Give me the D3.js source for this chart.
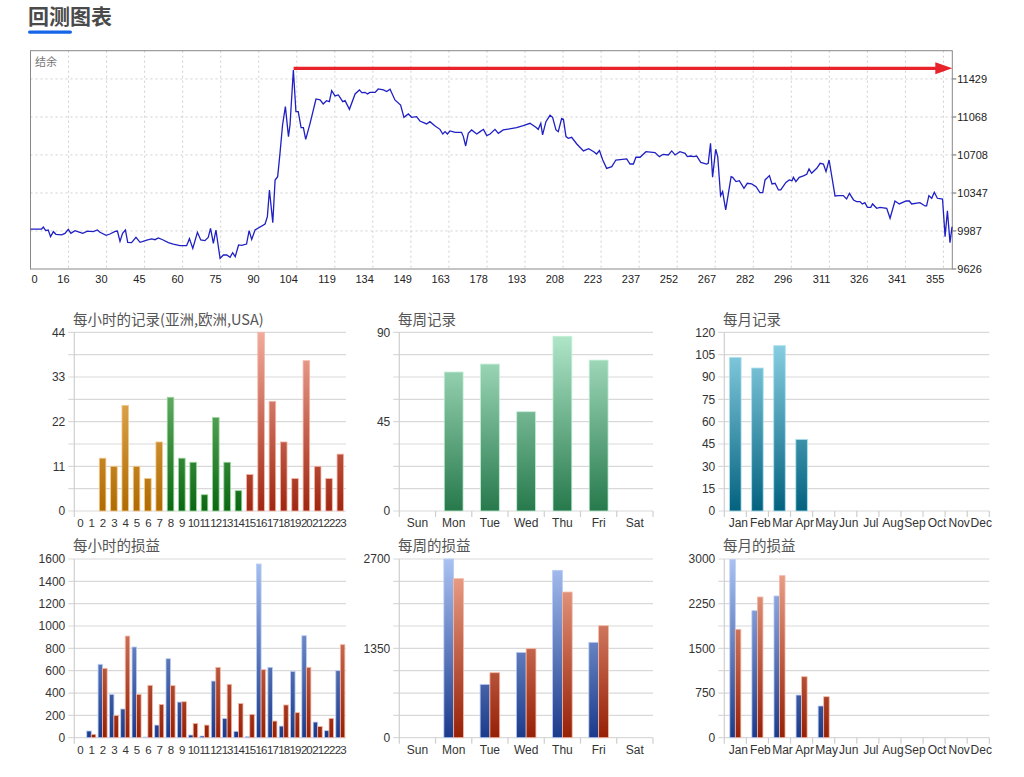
<!DOCTYPE html>
<html><head><meta charset="utf-8">
<script src="https://cdn.jsdelivr.net/npm/d3@7/dist/d3.min.js"></script>
<style>
body{margin:0;background:#fff;}
svg{display:block;}
</style></head><body>
<svg id="c" width="1024" height="777"></svg>
<script>
// ---------------- DATA ----------------
const tradeIndex = [0,4.3,5.0,5.9,6.9,7.8,8.9,9.9,12.1,13.4,14.7,15.7,17.3,19.2,20.3,22.1,24.4,26.0,27.0,29.4,30.9,32.9,33.8,34.8,35.8,36.9,37.8,39.3,41.0,42.6,45.2,47.1,48.4,49.7,51.6,53.6,55.5,58.1,60.7,61.8,63.1,64.9,66.2,67.8,69.1,70.0,71.1,72.1,73.7,75.0,76.3,77.6,78.6,79.6,80.9,82.1,84.0,85.0,86.0,87.3,91.2,92.1,92.9,94.2,95.1,96.1,97.0,98.0,99.1,100.3,100.9,102.2,103.2,104.1,105.2,106.1,107.0,108.7,111.0,112.6,113.8,115.1,116.2,
117.1,118.4,119.7,121.4,122.3,124.0,126.2,127.9,128.8,130.1,131.0,132.0,134.0,135.2,137.2,138.5,139.8,141.7,143.9,145.2,146.9,148.2,150.1,151.4,154.0,155.3,157.3,159.2,160.3,161.2,162.1,163.1,165.1,167.6,168.3,169.2,170.2,171.5,173.5,174.8,176.1,177.4,178.7,180.6,181.9,183.8,189.0,191.6,194.2,196.5,197.4,198.4,199.1,200.4,202.0,203.0,204.3,205.2,206.5,207.2,208.2,209.1,210.4,212.4,215.0,217.0,219.0,220.1,221.2,222.5,224.0,226.0,227.6,231.8,233.1,234.4,235.4,237.0,239.3,242.8,244.5,
246.0,248.0,249.3,250.6,252.5,254.5,255.4,256.7,257.7,259.0,260.6,262.9,263.5,264.4,265.2,266.4,267.2,268.3,269.1,270.3,272.4,273.0,274.3,275.6,277.4,278.7,280.4,282.1,283.6,284.7,285.6,287.3,288.3,289.5,290.8,291.7,293.7,295.0,296.1,296.6,297.6,298.9,300.5,301.8,302.7,303.7,305.7,307.0,308.3,309.3,310.5,312.8,314.1,316.0,317.3,318.4,320.0,321.2,322.5,323.4,324.4,325.4,326.7,327.4,329.0,330.3,332.9,334.2,336.1,337.8,340.4,341.7,342.6,345.8,347.8,348.4,349.3,350.4,351.4,352.6,354.6,355.6,356.5,357.5,358.3];
const balance = [10005,10005,10024,9990,9996,9933,9980,9955,9949,9964,10002,9964,9990,9974,9964,9986,9980,9996,9974,9945,9958,9983,9986,9888,9964,9996,9879,9876,9926,9879,9901,9911,9904,9920,9901,9876,9863,9847,9847,9914,9822,9974,9901,9895,9926,10012,9869,9996,9727,9759,9759,9737,9781,9743,9854,9851,9863,9990,9907,9996,10053,10123,10376,10066,10470,10502,10723,10992,11166,10882,10992,11514,11119,11119,10967,10967,10856,11008,11239,11230,11192,11223,11214,
11318,11268,11277,11214,11223,11141,11287,11325,11299,11302,11287,11302,11302,11334,11325,11309,11331,11230,11182,11065,11097,11065,11071,11030,11002,11024,10983,10951,10907,10929,10907,10936,10923,10923,10882,10793,10913,10945,10907,10929,10951,10891,10907,10951,10913,10945,10967,10986,11008,10970,10951,11008,10898,11024,11084,11065,10945,10929,11052,11046,10882,10866,10875,10812,10746,10768,10739,10717,10749,10660,10581,10597,10660,10670,10622,10622,10686,10686,10739,10730,10692,
10714,10708,10746,10708,10739,10724,10692,10698,10692,10698,10638,10622,10629,10818,10496,10762,10692,10322,10360,10186,10502,10496,10455,10464,10392,10439,10433,10407,10350,10350,10471,10512,10433,10439,10376,10376,10448,10471,10464,10496,10455,10496,10509,10524,10575,10534,10581,10629,10622,10550,10660,10319,10322,10322,10290,10344,10281,10265,10265,10243,10256,10211,10211,10243,10202,10211,10202,10107,10271,10243,10271,10271,10243,10256,10224,10224,10322,10297,10354,10297,10290,9933,10179,9876,10027];
const balanceXTicks = ["0","16","30","45","60","75","90","104","119","134","149","163","178","193","208","223","237","252","267","282","296","311","326","341","355"];
const balanceYTicks = [9626,9987,10347,10708,11068,11429];
const maxBalanceMark = 11530;

const hours = ["0","1","2","3","4","5","6","7","8","9","10","11","12","13","14","15","16","17","18","19","20","21","22","23"];
const hourSession = ["asia","asia","asia","asia","asia","asia","asia","asia","europe","europe","europe","europe","europe","europe","europe","usa","usa","usa","usa","usa","usa","usa","usa","usa"];
const hourTrades = [0,0,13,11,26,11,8,17,28,13,12,4,23,12,5,9,44,27,17,8,37,11,8,14];
const hourTradeTicks = [0,11,22,33,44];

const weekdays = ["Sun","Mon","Tue","Wed","Thu","Fri","Sat"];
const weekTrades = [0,70,74,50,88,76,0];
const weekTradeTicks = [0,45,90];

const months = ["Jan","Feb","Mar","Apr","May","Jun","Jul","Aug","Sep","Oct","Nov","Dec"];
const monthTrades = [103,96,111,48,0,0,0,0,0,0,0,0];
const monthTradeTicks = [0,15,30,45,60,75,90,105,120];

const hourProfit = [0,60,657,388,257,812,6,113,707,319,24,15,507,173,57,9,1555,630,104,594,913,140,63,600];
const hourLoss   = [0,30,621,200,910,388,469,298,466,322,128,113,630,478,307,209,609,149,293,224,630,101,173,833];
const hourPLTicks = [0,200,400,600,800,1000,1200,1400,1600];

const weekProfit = [0,2700,806,1289,2529,1441,0];
const weekLoss   = [0,2403,982,1345,2201,1692,0];
const weekPLTicks = [0,1350,2700];

const monthProfit = [2990,2132,2379,716,532,0,0,0,0,0,0,0];
const monthLoss   = [1819,2362,2720,1024,688,0,0,0,0,0,0,0];
const monthPLTicks = [0,750,1500,2250,3000];

// ---------------- DRAW ----------------
const svg = d3.select("#c");
const defs = svg.append("defs");
const LAT = "'Liberation Sans', Arial, sans-serif";
const CJK = "'Noto Sans CJK SC', sans-serif";

// page title
svg.append("text").attr("x",28).attr("y",24).text("回测图表")
  .attr("font-family",CJK).attr("font-weight","bold").attr("font-size",21).attr("fill","#4a4a4a");
svg.append("rect").attr("x",28).attr("y",30.5).attr("width",44).attr("height",3.2).attr("rx",1.6).attr("fill","#1565e8");

// ---- balance chart ----
(function(){
  const L=30.5,R=952.3,T=50.7,B=269;
  const x = d3.scaleLinear().domain([0,358.4]).range([L,R]);
  const y = d3.scaleLinear().domain([9626,11697]).range([B,T]);
  const tickStep = 14.79;
  const g = svg.append("g");
  balanceXTicks.forEach((lab,k)=>{
    const px = x(k*tickStep);
    if(k>0) g.append("line").attr("x1",px).attr("x2",px).attr("y1",T).attr("y2",B)
      .attr("stroke","#cfcfcf").attr("stroke-dasharray","2,3");
    g.append("text").attr("x",k===0?L+1:px+1).attr("y",B+10).attr("dy","0.35em")
      .attr("text-anchor",k===0?"start":"end").attr("font-family",LAT).attr("font-size",11)
      .attr("fill","#222").text(lab);
  });
  balanceYTicks.forEach((v,k)=>{
    const py=y(v);
    if(k>0) g.append("line").attr("x1",L).attr("x2",R).attr("y1",py).attr("y2",py)
      .attr("stroke","#cfcfcf").attr("stroke-dasharray","2,3");
    g.append("line").attr("x1",R).attr("x2",R+4).attr("y1",py).attr("y2",py).attr("stroke","#666");
    g.append("text").attr("x",R+5).attr("y",py).attr("dy","0.35em").attr("font-family",LAT)
      .attr("font-size",11).attr("fill","#222").text(v);
  });
  g.append("rect").attr("x",L).attr("y",T).attr("width",R-L).attr("height",B-T)
    .attr("fill","none").attr("stroke","#888");
  g.append("text").attr("x",35).attr("y",62).attr("dy","0.35em").attr("font-family",CJK)
    .attr("font-size",11).attr("fill","#777").text("结余");
  const pts = tradeIndex.map((t,i)=>[t,balance[i]]);
  g.append("path").datum(pts).attr("d",d3.line().x(d=>x(d[0])).y(d=>y(d[1])))
    .attr("fill","none").attr("stroke","#1f1fc4").attr("stroke-width",1.3);
  const ry = y(maxBalanceMark);
  g.append("line").attr("x1",x(102.3)).attr("x2",R-14).attr("y1",ry).attr("y2",ry)
    .attr("stroke","#e8232b").attr("stroke-width",3.2);
  g.append("path").attr("d",`M${R-17},${ry-6}L${R},${ry}L${R-17},${ry+6}Z`).attr("fill","#e8232b");
})();

function grad(id, top, bot, y1, y2){
  const lg = defs.append("linearGradient").attr("id",id).attr("gradientUnits","userSpaceOnUse")
    .attr("x1",0).attr("x2",0).attr("y1",y1).attr("y2",y2);
  lg.append("stop").attr("offset","0%").attr("stop-color",top);
  lg.append("stop").attr("offset","100%").attr("stop-color",bot);
  return `url(#${id})`;
}

function barChart(o){
  const g = svg.append("g");
  const x = d3.scaleBand().domain(o.cats).range([o.left,o.right]);
  const yMax = o.ticks[o.ticks.length-1];
  const y = d3.scaleLinear().domain([0,yMax]).range([o.bottom,o.top]);
  const grid = d3.range(9).map(k=>yMax*k/8);
  g.selectAll("line.grid").data(grid).join("line")
    .attr("x1",o.left-6).attr("x2",o.right).attr("y1",d=>y(d)).attr("y2",d=>y(d))
    .attr("stroke","#d9d9d9").attr("stroke-width",1.2);
  g.append("line").attr("x1",o.left).attr("x2",o.left).attr("y1",o.top).attr("y2",o.bottom+6)
    .attr("stroke","#cfcfcf").attr("stroke-width",1.2);
  if(o.bandTicks){
    o.cats.forEach((c,i)=>{
      const px = x(c)+x.bandwidth();
      g.append("line").attr("x1",px).attr("x2",px).attr("y1",o.bottom).attr("y2",o.bottom+6)
        .attr("stroke","#cfcfcf").attr("stroke-width",1.2);
    });
  }
  g.selectAll("text.yl").data(o.ticks).join("text")
    .attr("x",o.left-9).attr("y",d=>y(d)).attr("dy","0.35em").attr("text-anchor","end")
    .attr("font-family",LAT).attr("font-size",12).attr("fill","#333").text(d=>d);
  g.selectAll("text.xl").data(o.cats).join("text")
    .attr("x",d=>x(d)+x.bandwidth()/2+(o.labelDx||0)).attr("y",o.bottom+12).attr("dy","0.35em")
    .attr("text-anchor","middle").attr("font-family",LAT).attr("font-size",o.xFont||12)
    .attr("letter-spacing",o.xSpacing||0).attr("fill","#333").text(d=>d);
  g.append("text").attr("x",o.titleX).attr("y",o.titleY).attr("dy","0.35em")
    .attr("font-family",CJK).attr("font-size",14.5).attr("fill","#555").text(o.title);
  const n = o.series.length;
  const groupW = x.bandwidth()*o.ratio;
  const sub = d3.scaleBand().domain(d3.range(n)).range([-groupW/2,groupW/2]);
  o.series.forEach((s,si)=>{
    g.selectAll(null).data(s.values).join("rect")
      .attr("x",(d,i)=>x(o.cats[i])+x.bandwidth()/2+sub(si))
      .attr("width",sub.bandwidth())
      .attr("y",d=>y(d)).attr("height",d=>y(0)-y(d))
      .attr("fill",(d,i)=>s.fill(i))
      .attr("stroke",(d,i)=>s.stroke(i)).attr("stroke-width",0.8)
      .attr("display",d=>d>0?null:"none");
  });
}

const T1=332.3,B1=511,T2=559,B2=737.7;
const sessFill = {
  asia: grad("gAsia","#f5c57a","#b06a00",T1,B1),
  europe: grad("gEu","#8fcf8f","#0a6812",T1,B1),
  usa: grad("gUsa","#f2ab9c","#a02610",T1,B1)
};
const sessStroke = {asia:"#f3c98a",europe:"#9ad69a",usa:"#f4b6a8"};

barChart({cats:hours,left:74.3,right:346,top:T1,bottom:B1,ticks:hourTradeTicks,ratio:0.58,xFont:11.5,xSpacing:-0.9,
  title:"每小时的记录(亚洲,欧洲,USA)",titleX:73,titleY:320,
  series:[{values:hourTrades,fill:i=>sessFill[hourSession[i]],stroke:i=>sessStroke[hourSession[i]]}]});

const wkFill = grad("gWk","#b2e8cb","#27794c",T1,B1);
barChart({cats:weekdays,left:399.3,right:653,top:T1,bottom:B1,ticks:weekTradeTicks,ratio:0.52,bandTicks:true,
  title:"每周记录",titleX:398,titleY:320,
  series:[{values:weekTrades,fill:()=>wkFill,stroke:()=>"#c2eed6"}]});

const moFill = grad("gMo","#92d6e8","#03627f",T1,B1);
barChart({cats:months,left:724.3,right:989.3,top:T1,bottom:B1,ticks:monthTradeTicks,ratio:0.52,bandTicks:true,labelDx:3,
  title:"每月记录",titleX:723,titleY:320,
  series:[{values:monthTrades,fill:()=>moFill,stroke:()=>"#a6def0"}]});

const blueFill = grad("gBlue","#aac2f2","#1b3a8a",T2,B2);
const redFill = grad("gRed","#f0aa92","#962006",T2,B2);
const plSeries = (p,l)=>[{values:p,fill:()=>blueFill,stroke:()=>"#b8cdf5"},{values:l,fill:()=>redFill,stroke:()=>"#f4b9a6"}];

barChart({cats:hours,left:74.3,right:346,top:T2,bottom:B2,ticks:hourPLTicks,ratio:0.8,xFont:11.5,xSpacing:-0.9,
  title:"每小时的损益",titleX:73,titleY:546,series:plSeries(hourProfit,hourLoss)});
barChart({cats:weekdays,left:399.3,right:653,top:T2,bottom:B2,ticks:weekPLTicks,ratio:0.54,bandTicks:true,
  title:"每周的损益",titleX:398,titleY:546,series:plSeries(weekProfit,weekLoss)});
barChart({cats:months,left:724.3,right:989.3,top:T2,bottom:B2,ticks:monthPLTicks,ratio:0.5,bandTicks:true,labelDx:3,
  title:"每月的损益",titleX:723,titleY:546,series:plSeries(monthProfit,monthLoss)});
</script>
</body></html>
